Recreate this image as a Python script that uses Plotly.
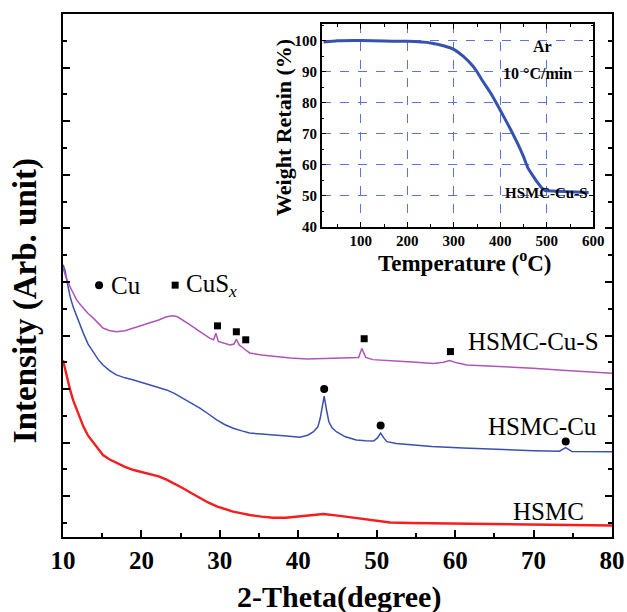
import plotly.graph_objects as go

# ---------------- data ----------------
# XRD (2-theta, arbitrary intensity)
hsmc_x = [10.0, 10.45, 10.9, 11.3, 11.75, 12.2, 12.6, 13.2, 13.9, 14.5, 15.1, 15.9, 16.8, 17.9,
          19.0, 20.0, 21.1, 22.2, 23.2, 24.2, 25.3, 26.4, 27.5, 28.5, 29.6, 30.6, 31.7, 32.8,
          33.8, 35.3, 36.8, 38.4, 40.0, 41.6, 43.2, 45.3, 47.4, 49.5, 51.7, 54.3, 57.0, 61.0,
          65.6, 72.0, 80.0]
hsmc_y = [35.4, 32.5, 29.9, 27.9, 26.1, 24.5, 23.0, 21.3, 19.9, 18.7, 17.7, 16.9, 16.2, 15.5,
          14.9, 14.55, 14.2, 13.7, 13.1, 12.4, 11.5, 10.55, 9.65, 8.85, 8.1, 7.6, 7.15, 6.8,
          6.5, 6.2, 6.0, 6.0, 6.2, 6.5, 6.7, 6.35, 5.9, 5.45, 5.1, 5.0, 4.95, 4.85,
          4.76, 4.62, 4.54]

cu_x = [10.0, 10.25, 10.6, 10.9, 11.3, 11.75, 12.2, 12.6, 13.2, 13.9, 14.5, 15.1, 15.9, 16.8,
        17.9, 19.0, 20.0, 21.1, 22.2, 23.2, 24.2, 25.3, 26.4, 27.5, 28.5, 29.6, 30.6, 31.7,
        32.8, 33.8, 35.3, 36.8, 38.5, 40.2, 41.2, 41.9, 42.5, 42.8, 43.0, 43.3, 43.6, 43.9,
        44.3, 44.9, 46.0, 47.4, 48.6, 49.6, 50.1, 50.5, 50.9, 51.3, 52.5, 54.5, 57.0, 61.0,
        65.6, 70.0, 73.3, 74.1, 74.9, 77.0, 80.0]
cu_y = [53.2, 52.2, 49.5, 47.3, 45.3, 43.5, 41.9, 40.4, 38.4, 36.7, 35.5, 34.5, 33.5, 32.65,
        32.1, 31.7, 31.25, 30.8, 30.3, 29.85, 29.2, 28.3, 27.4, 26.4, 25.4, 24.25, 23.4, 22.7,
        22.2, 21.8, 21.6, 21.5, 21.25, 21.0, 21.4, 22.0, 22.95, 24.6, 26.5, 28.7, 26.1, 23.9,
        22.8, 22.0, 21.1, 20.5, 20.35, 20.3, 20.9, 21.8, 20.9, 20.2, 19.85, 19.55, 19.3, 19.0,
        18.7, 18.5, 18.4, 19.1, 18.35, 18.32, 18.3]

cus_x = [10.0, 10.45, 10.9, 11.3, 11.75, 12.2, 12.6, 13.2, 13.9, 14.5, 15.1, 15.9, 16.8, 17.9,
         19.0, 20.0, 21.1, 22.2, 23.2, 24.0, 24.6, 25.3, 26.4, 27.5, 28.7, 29.2, 29.5, 29.8,
         30.5, 31.3, 31.8, 32.1, 32.5, 32.8, 33.3, 33.8, 35.3, 36.8, 39.0, 41.1, 44.0, 46.6,
         47.7, 48.1, 48.6, 49.5, 51.2, 52.9, 55.0, 57.2, 58.5, 59.3, 60.2, 61.5, 63.5, 65.7,
         69.9, 74.2, 77.0, 80.0]
cus_y = [52.6, 50.6, 49.1, 47.8, 46.6, 45.8, 45.1, 44.1, 43.2, 42.2, 41.4, 40.95, 40.7, 40.9,
         41.4, 41.85, 42.3, 42.9, 43.5, 43.7, 43.5, 42.9, 41.8, 40.7, 39.5, 39.2, 40.4, 38.9,
         38.6, 38.25, 38.4, 39.3, 38.15, 37.9, 37.3, 36.75, 36.35, 36.1, 35.8, 35.6, 35.7, 35.75,
         35.9, 37.6, 35.9, 35.5, 35.3, 35.2, 35.0, 34.8, 35.0, 35.35, 34.9, 34.5, 34.35, 34.2,
         33.9, 33.45, 33.2, 32.97]

cu_peak_x = [43.3, 50.5, 74.1]
cu_peak_y = [30.0, 23.2, 20.2]
cus_peak_x = [29.7, 32.1, 33.3, 48.4, 59.4]
cus_peak_y = [41.8, 40.7, 39.2, 39.4, 37.0]

# TGA inset
tga_t = [20, 50, 100, 150, 200, 250, 280, 300, 320, 340, 350, 360, 380, 400, 420, 440,
         450, 460, 470, 480, 490, 495, 500, 550, 590]
tga_w = [99.6, 100.0, 100.1, 99.9, 99.8, 99.3, 98.3, 97.2, 95.0, 92.0, 90.0, 87.5, 83.0, 77.6,
         72.0, 66.0, 62.6, 58.8, 56.5, 54.3, 52.4, 51.8, 51.6, 51.3, 51.0]

x_ticks = [10, 20, 30, 40, 50, 60, 70, 80]
tga_xticks = [100, 200, 300, 400, 500, 600]
tga_yticks = [40, 50, 60, 70, 80, 90, 100]

SERIF = "Liberation Serif"
RED = "#f51d1d"
BLUE = "#3a50b0"
MAG = "#b055b5"
TGA = "#3552b0"
GRID = "#5a72e6"

fig = go.Figure()

fig.add_trace(go.Scatter(x=hsmc_x, y=hsmc_y, mode="lines", line=dict(color=RED, width=2.4),
                         showlegend=False, hoverinfo="skip"))
fig.add_trace(go.Scatter(x=cu_x, y=cu_y, mode="lines", line=dict(color=BLUE, width=1.5),
                         showlegend=False, hoverinfo="skip"))
fig.add_trace(go.Scatter(x=cus_x, y=cus_y, mode="lines", line=dict(color=MAG, width=1.5),
                         showlegend=False, hoverinfo="skip"))
fig.add_trace(go.Scatter(x=cu_peak_x, y=cu_peak_y, mode="markers", marker=dict(symbol="circle", size=8, color="black"),
                         showlegend=False, hoverinfo="skip"))
fig.add_trace(go.Scatter(x=cus_peak_x, y=cus_peak_y, mode="markers", marker=dict(symbol="square", size=7, color="black"),
                         showlegend=False, hoverinfo="skip"))
# in-plot legend symbols
fig.add_trace(go.Scatter(x=[14.6], y=[49.4], mode="markers", marker=dict(symbol="circle", size=8, color="black"),
                         showlegend=False, hoverinfo="skip"))
fig.add_trace(go.Scatter(x=[24.3], y=[49.4], mode="markers", marker=dict(symbol="square", size=7, color="black"),
                         showlegend=False, hoverinfo="skip"))

# inset
fig.add_trace(go.Scatter(x=tga_t, y=tga_w, mode="lines", line=dict(color=TGA, width=3, shape="spline", smoothing=0.5),
                         xaxis="x2", yaxis="y2", showlegend=False, hoverinfo="skip"))

axis_common = dict(showline=True, linecolor="black", linewidth=2, zeroline=False, showgrid=False, automargin=False)

fig.update_layout(
    width=627, height=612,
    margin=dict(l=63, r=15, t=14, b=75),
    paper_bgcolor="white", plot_bgcolor="white",
    font=dict(family=SERIF, color="black"),
    xaxis=dict(**axis_common, range=[10, 80], mirror=True, tickmode="array", tickvals=x_ticks,
               ticktext=[str(v) for v in x_ticks], ticks="inside", ticklen=7, tickwidth=2, tickcolor="black",
               minor=dict(ticks="inside", ticklen=4, tickwidth=1.5, dtick=5, tick0=5, tickcolor="black"),
               tickfont=dict(family=SERIF, size=25, weight="bold"), domain=[0, 1]),
    yaxis=dict(**axis_common, range=[2.4, 100], mirror="ticks", ticks="inside", ticklen=7, tickwidth=2,
               tickcolor="black", dtick=10, tick0=0, showticklabels=False,
               minor=dict(ticks="inside", ticklen=4, tickwidth=1.5, dtick=5, tick0=0, tickcolor="black"),
               domain=[0, 1]),
    xaxis2=dict(showline=True, linecolor="black", linewidth=1.5, zeroline=False, mirror="ticks", automargin=False,
                domain=[0.4712, 0.9659], anchor="y2", range=[16, 600],
                tickmode="array", tickvals=tga_xticks, ticks="inside", ticklen=5, tickcolor="black",
                minor=dict(ticks="inside", ticklen=3, dtick=50, tick0=0, tickcolor="black", showgrid=False),
                showgrid=True, gridcolor=GRID, griddash="dash", gridwidth=1,
                tickfont=dict(family=SERIF, size=15, weight="bold")),
    yaxis2=dict(showline=True, linecolor="black", linewidth=1.5, zeroline=False, mirror="ticks", automargin=False,
                domain=[0.5933, 0.9809], anchor="x2", range=[40, 105.4],
                tickmode="array", tickvals=tga_yticks, ticks="inside", ticklen=5, tickcolor="black",
                minor=dict(ticks="inside", ticklen=3, dtick=5, tick0=0, tickcolor="black", showgrid=False),
                showgrid=True, gridcolor=GRID, griddash="dash", gridwidth=1,
                tickfont=dict(family=SERIF, size=15, weight="bold")),
)

ann = []
# main axis titles
ann.append(dict(text="<b>2-Theta(degree)</b>", xref="paper", yref="paper", x=0.503, y=-0.1147,
                showarrow=False, font=dict(family=SERIF, size=30), xanchor="center", yanchor="middle"))
ann.append(dict(text="<b>Intensity (Arb. unit)</b>", xref="paper", yref="paper", x=-0.0692, y=0.451,
                showarrow=False, textangle=-90, font=dict(family=SERIF, size=33), xanchor="center", yanchor="middle"))
# inset titles
ann.append(dict(text="<b>Temperature (<sup>o</sup>C)</b>", xref="paper", yref="paper", x=0.7322, y=0.5264,
                showarrow=False, font=dict(family=SERIF, size=23), xanchor="center", yanchor="middle"))
ann.append(dict(text="<b>Weight Retain (%)</b>", xref="paper", yref="paper", x=0.4007, y=0.7839,
                showarrow=False, textangle=-90, font=dict(family=SERIF, size=22), xanchor="center", yanchor="middle"))
# inset notes
ann.append(dict(text="<b>Ar</b>", xref="x2", yref="y2", x=490, y=98.1, showarrow=False,
                font=dict(family=SERIF, size=16), xanchor="center", yanchor="middle"))
ann.append(dict(text="<b>10 °C/min</b>", xref="x2", yref="y2", x=480, y=89.5, showarrow=False,
                font=dict(family=SERIF, size=16), xanchor="center", yanchor="middle"))
ann.append(dict(text="<b>HSMC-Cu-S</b>", xref="x2", yref="y2", x=500, y=50.8, showarrow=False,
                font=dict(family=SERIF, size=15), xanchor="center", yanchor="middle"))
# curve labels
ann.append(dict(text="HSMC-Cu-S", xref="x", yref="y", x=61.47, y=38.86, showarrow=False,
                font=dict(family=SERIF, size=25), xanchor="left", yanchor="middle"))
ann.append(dict(text="HSMC-Cu", xref="x", yref="y", x=64.0, y=23.0, showarrow=False,
                font=dict(family=SERIF, size=25), xanchor="left", yanchor="middle"))
ann.append(dict(text="HSMC", xref="x", yref="y", x=67.2, y=7.15, showarrow=False,
                font=dict(family=SERIF, size=25), xanchor="left", yanchor="middle"))
# legend text
ann.append(dict(text="Cu", xref="x", yref="y", x=16.0, y=49.4, showarrow=False,
                font=dict(family=SERIF, size=25), xanchor="left", yanchor="middle"))
ann.append(dict(text="CuS<sub><i>x</i></sub>", xref="x", yref="y", x=25.55, y=49.4, showarrow=False,
                font=dict(family=SERIF, size=25), xanchor="left", yanchor="middle"))

for a in ann:
    a["borderpad"] = 0
fig.update_layout(annotations=ann)

fig.write_html("out.html")
